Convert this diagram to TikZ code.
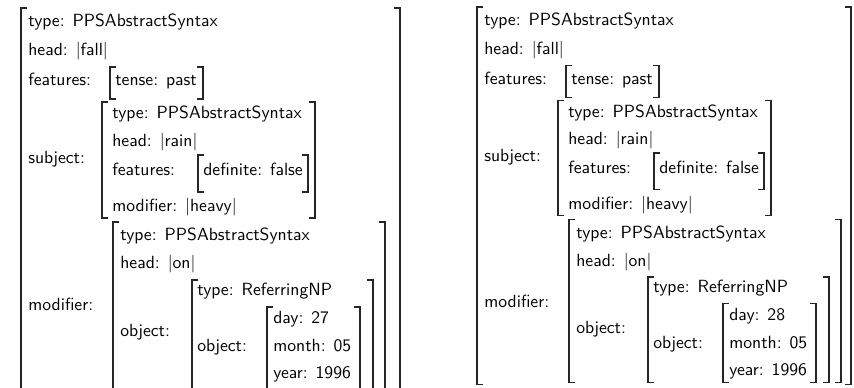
\documentclass[tikz,border=0pt]{standalone}
\usepackage{tikz}

% square brackets of an attribute-value matrix
\newcommand{\lbrk}[3]{\draw[brk] ({#1+6},#2) -| (#1,#3) -- ({#1+6},#3);}
\newcommand{\rbrk}[3]{\draw[brk] ({#1-6},#2) -| (#1,#3) -- ({#1-6},#3);}

% one feature structure for the event "rain fell heavy on <date>"
% #1 name prefix, #2 day, #3 x of the outer right bracket,
% #4 bottom of the inner brackets, #5 bottom of the outer brackets
\newcommand{\eventavm}[5]{%
  % outer matrix
  \lbrk{21}{8}{#5}\rbrk{#3}{8}{#5}
  \node[lab] (#1-type) at (28,23) {type:\hspace{0.45em}PPSAbstractSyntax};
  \node[lab] (#1-head) at (28,52) {head:\hspace{0.45em}|fall|};
  \node[lab] (#1-feat) at (28,82) {features:};
  \node[lab] (#1-subj) at (28,160) {subject:};
  \node[lab] (#1-mod)  at (28,307) {modifier:};
  % features
  \lbrk{110}{67}{99}\rbrk{203}{67}{99}
  \node[lab] (#1-tense) at (115,82) {tense:\hspace{0.45em}past};
  % subject
  \lbrk{102}{102}{218}\rbrk{315}{102}{218}
  \node[lab] (#1-s-type) at (112,115) {type:\hspace{0.45em}PPSAbstractSyntax};
  \node[lab] (#1-s-head) at (112,143) {head:\hspace{0.45em}|rain|};
  \node[lab] (#1-s-feat) at (112,172) {features:};
  \node[lab] (#1-s-mod)  at (112,208) {modifier:\hspace{0.45em}|heavy|};
  \lbrk{198}{155}{192}\rbrk{308}{155}{192}
  \node[lab] (#1-s-def) at (203,172) {definite:\hspace{0.45em}false};
  % modifier
  \lbrk{113}{222}{#4}\rbrk{385}{222}{#4}
  \node[lab] (#1-m-type) at (120,237) {type:\hspace{0.45em}PPSAbstractSyntax};
  \node[lab] (#1-m-head) at (120,265) {head:\hspace{0.45em}|on|};
  \node[lab] (#1-m-obj)  at (120,333) {object:};
  % referring NP
  \lbrk{192}{280}{#4}\rbrk{373}{280}{#4}
  \node[lab] (#1-np-type) at (197,292) {type:\hspace{0.45em}ReferringNP};
  \node[lab] (#1-np-obj)  at (197,348) {object:};
  % date
  \lbrk{267}{307}{#4}\rbrk{360}{307}{#4}
  \node[lab] (#1-day)   at (273,320) {day:\hspace{0.45em}#2};
  \node[lab] (#1-month) at (273,348) {month:\hspace{0.45em}05};
  \node[lab] (#1-year)  at (273,375) {year:\hspace{0.45em}1996};
}

\begin{document}
\begin{tikzpicture}[x=0.5556pt,y=-0.5556pt,
  brk/.style={line width=0.65pt,black!85},
  lab/.style={anchor=mid west,inner sep=0pt,font=\sffamily\fontsize{9.8}{12}\selectfont}]
\useasboundingbox[fill=white] (0,0) rectangle (854,387);
\begin{scope}
  \clip (0,0) rectangle (854,387);
  \eventavm{L}{27}{400}{392}{395}
\end{scope}
\begin{scope}[shift={(456,-1)},yscale=0.993]
  \eventavm{R}{28}{395}{386.5}{388.5}
\end{scope}
\end{tikzpicture}
\end{document}
